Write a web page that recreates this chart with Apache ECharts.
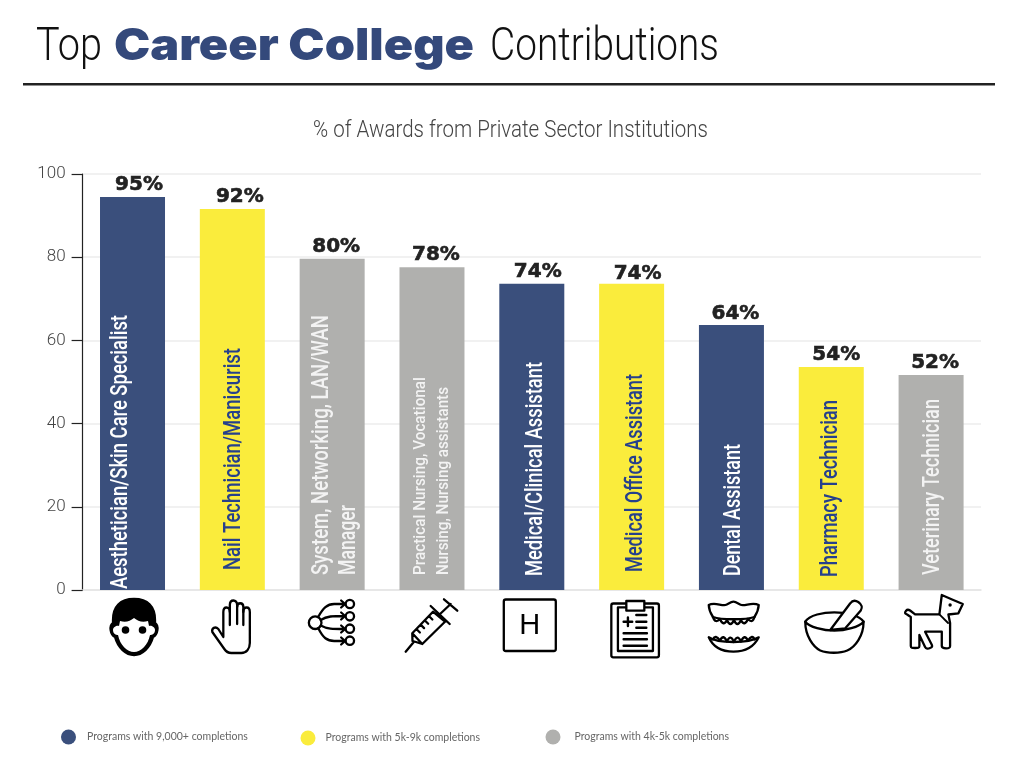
<!DOCTYPE html>
<html><head><meta charset="utf-8">
<style>html,body{margin:0;padding:0;background:#fff}#c{width:1024px;height:762px}</style>
<script src="https://cdn.jsdelivr.net/npm/echarts@6/dist/echarts.min.js"></script>
</head><body><div id="c"></div>
<script>
const categories = ['Aesthetician/Skin Care Specialist','Nail Technician/Manicurist','System, Networking, LAN/WAN\nManager','Practical Nursing, Vocational\nNursing, Nursing assistants','Medical/Clinical Assistant','Medical Office Assistant','Dental Assistant','Pharmacy Technician','Veterinary Technician'];
const values = [94.5,91.6,79.6,77.6,73.6,73.6,63.7,53.6,51.7];
const valueLabels = ['95%','92%','80%','78%','74%','74%','64%','54%','52%'];
const tiers = [2,1,0,0,2,1,2,1,0]; // 2 = 9,000+, 1 = 5k-9k, 0 = 4k-5k
const tierNames = ['Programs with 4k-5k completions','Programs with 5k-9k completions','Programs with 9,000+ completions'];
const yTicks = [0,20,40,60,80,100];

const tierColors = ['#b0b0ae','#faec3c','#3a4f7c'];
const tierTextColors = ['#f3f3f3','#26408c','#ffffff'];
const percentNudge = [[6.5,0],[7.5,0],[4,0],[4,0],[6,0],[6,2],[4,1],[5,0],[4,0]];
const nameDx = [[-11],[1.5],[-9.5,17],[-11.5,12],[4],[5],[3],[0],[2]];
const nameDy = [-1,-20,-15,-15,-14,-18,-14,-13,-15];
const nameLen = [[274],[222],[260,70],[198,188],[214],[198],[132],[177],[176]];
const nameFont = ['500 23px Roboto','500 23px Roboto','500 23px Roboto','500 17px Roboto','500 23px Roboto','500 23px Roboto','500 23px Roboto','500 23px Roboto','500 23px Roboto'];

const circle=(x,y,r)=>`M${x-r},${y}a${r},${r} 0 1,0 ${2*r},0a${r},${r} 0 1,0 ${-2*r},0Z`;
const icons = [
 [{d:'M1.5,9C-12.5,9 -19.5,17 -19.5,30L-19.5,33C-23.5,36 -22.5,44 -17.5,47C-14.5,58 -6.5,65 1.5,65C9.5,65 17.5,58 20.5,47C25.5,44 26.5,36 22.5,33L22.5,30C22.5,17 15.5,9 1.5,9Z',fill:'#000',stroke:'#000'},
  {d:'M-13.5,36L-12.5,31C-6.5,33 -2.5,31 1.5,28C5.5,31 9.5,33 15.5,31L16.5,36C18.5,35 22.5,37 22.5,40C22.5,44 19.5,45 17.5,45C15.5,55 8.5,62 1.5,62C-5.5,62 -12.5,55 -14.5,45C-16.5,45 -19.5,44 -19.5,40C-19.5,37 -15.5,35 -13.5,36Z',fill:'#fff',stroke:'none'},
  {d:circle(-7,40,3.8)+circle(10,40,3.8),fill:'#000',stroke:'none'}],
 [{d:'M-9,47L-9,22C-9,16 -2.5,16 -2.5,22L-2.5,15C-2.5,9 4.8,9 4.8,15L4.8,17C4.8,12 11,12 11,17L11,22C11,16 17.5,16 17.5,22L17.5,53C17.5,59 14,63 9,63L-1,63C-4,63 -6,62 -8,59L-20,42C-21,38 -17,36 -14,39L-9,47Z'},
  {d:'M-2.5,20L-2.5,35M4.8,16L4.8,34M11,20L11,35'}],
 [{d:circle(-17,32.7,6.3)},
  {d:circle(17.7,14,4.2)+circle(17.7,26.3,4.2)+circle(17.7,38.7,4.2)+circle(17.7,50.7,4.2)},
  {d:'M-14,27C-9,18 -5,14 2,14L13,14M9,10.5L13,14L9,17.5M-11.5,30C-5,26 0,26 13,26M9,22.5L13,26L9,29.5M-11.5,35.5C-5,39 0,39 13,39M9,35.5L13,39L9,42.5M-14,38C-9,48 -5,51 2,51L13,51M9,47.5L13,51L9,54.5'}],
 [{d:'M-26.3,61.7L-18,51.7M-19.7,43.3L-9.7,54L13,31.7L1,21.7ZM-19.7,43.3L-19.5,51L-16,52L-9.7,54M-1.3,16L17.7,34M7,25L18.7,14M12,9.3L25.3,20.7M-15.6,39L-12.1,42.5M-11.4,34.6L-7.9,38.1M-7.3,30.3L-3.8,33.8M-3.1,26L.4,29.5'}],
 [{d:'M-26,9.5L22,9.5Q24,9.5 24,11.5L24,59Q24,61 22,61L-26,61Q-28,61 -28,59L-28,11.5Q-28,9.5 -26,9.5Z'},{t:'H',x:-2,y:36}],
 [{d:'M-18.3,13.5L25.3,13.5Q27.3,13.5 27.3,15.5L27.3,65.3Q27.3,67.3 25.3,67.3L-18.3,67.3Q-20.3,67.3 -20.3,65.3L-20.3,15.5Q-20.3,13.5 -18.3,13.5ZM-13.7,17.3L21.3,17.3L21.3,61L-13.7,61Z'},
  {d:'M-5.3,11L12.7,11L12.7,20.7L-5.3,20.7Z',fill:'#fff'},
  {d:'M-8,31.7L.6,31.7M-3.7,27.4L-3.7,36M4.7,25L14.7,25M4.7,31.7L14.7,31.7M4.7,37.7L14.7,37.7M-8,43.3L15.3,43.3M-8,49.3L15.3,49.3M-8,55.7L15.3,55.7',w:2.4}],
 [{d:'M-22.7,15C-17,12 -10,16 -6,15C-3,14 -1,11.7 2,11.7C5,11.7 7,14 10,15C14,16 21,12 27.3,15C27,20 25,24 23,27C14,30 -10,30 -18.5,27C-20.5,24 -22.5,20 -22.7,15Z'},
  {d:'M-18.5,27Q-16,34 -11.5,29Q-8,37 -4.5,30Q-1,38 2.5,30Q6,38 9.5,30Q13,37 16.5,29Q21,34 23,27'},
  {d:'M-22.7,47.3C-18,58 -8,61.7 2,61.7C12,61.7 22,58 27.3,47.3C22,50.5 12,52 2,52C-8,52 -18,50.5 -22.7,47.3Z'},
  {d:'M-18.5,49.5Q-16,44 -11.5,50.5Q-8,43.5 -4.5,51.5Q-1,43.5 2.5,52Q6,43.5 9.5,51.5Q13,43.5 16.5,50.5Q21,44 23,49.5'}],
 [{d:'M-26,31.7C-22,25 -8,22.3 3,22.3C14,22.3 28,25 32.3,31.7',fill:'none'},
  {d:'M-1,40L19,13.3C21,10.5 24,10 27,12C31,15 31.5,17 29.5,20.5L14,38.3Z',fill:'#fff'},
  {d:'M-26,31.7C-26,46 -18,57 -11,60.5C-4,63.5 9,63.5 16,60.5C24,57 32.3,46 32.3,31.7C28,37 14,40.7 3,40.7C-8,40.7 -22,37 -26,31.7Z'}],
 [{d:'M-25,20.7C-26.5,22.5 -26.5,23.5 -24,24.5L-20.3,27L-20.3,56C-20.3,58 -19,58 -16,58C-13,58 -11.7,58 -11.7,56L-11.7,45L-6,57C-5,59 -3,59 -1,58C1,57.5 1.5,56.5 .7,54.7L-6,41.7L10.7,41.7L10.7,56C10.7,58 12,58.3 15,58.3C18,58.3 19,58 19,56L19,33L17.3,24.5L27.3,23.3L31.7,14L21,9.5L10.7,5L8.3,24.3L-16,24.3L-21,20.5C-22.5,19.5 -24,19.5 -25,20.7Z'},
  {d:'M8.3,24.3L17,33',w:1.8},{d:circle(19,15,1.7),fill:'#000',stroke:'none'}]
];

const meas=document.createElement('canvas').getContext('2d');
function fit(text,font,width){meas.font=font;return width/meas.measureText(text).width;}
function fitted(text,x,y,font,width,fill){
  return {type:'text',x:x,y:y,scaleX:fit(text,font,width),style:{text:text,x:0,y:0,font:font,fill:fill,textVerticalAlign:'middle',textAlign:'left'}};
}

const barSeries = tierNames.map((nm,t)=>({
  name:nm,type:'bar',barWidth:65,barGap:'-100%',z:2,
  itemStyle:{color:tierColors[t]},
  data:values.map((v,i)=>tiers[i]===t?v:null)
}));

const legendAt=[[61,729.5],[300.5,730.5],[545.5,729.5]];
const legendPad=[6,5,9];
const legendOrder=[2,1,0];
const option={
  animation:false,backgroundColor:'#fff',
  grid:{left:82.6,right:43,top:174,bottom:172,containLabel:false},
  xAxis:{type:'category',data:categories,axisLabel:{show:false},axisTick:{show:false},axisLine:{lineStyle:{color:'#e4e4e4',width:1.5}}},
  yAxis:{type:'value',min:0,max:100,interval:20,
    axisLine:{show:true,lineStyle:{color:'#222',width:1.2}},
    axisTick:{show:true,length:11,lineStyle:{color:'#222',width:1.2}},
    axisLabel:{margin:17,color:'#444',fontFamily:'Roboto',fontWeight:300,fontSize:17,formatter:v=>yTicks.includes(v)?String(v):''},
    splitLine:{lineStyle:{color:'#ececec',width:1.5}}},
  legend:legendOrder.map((t,k)=>({data:[tierNames[t]],left:legendAt[k][0],top:legendAt[k][1],padding:0,itemWidth:15,itemHeight:15,icon:'circle',selectedMode:false,
    textStyle:{color:'#666',fontFamily:'Lato',fontSize:10.5,padding:[0,0,0,legendPad[k]]}})),
  series:[...barSeries,
   {name:'value labels',type:'bar',barWidth:65,barGap:'-100%',z:3,itemStyle:{color:'transparent'},
    data:values.map((v,i)=>({value:v,label:{show:true,position:'top',distance:2,formatter:valueLabels[i],color:'#222',textBorderColor:'#222',textBorderWidth:0.6,fontFamily:'"DejaVu Sans"',fontWeight:'bold',fontSize:20,offset:percentNudge[i]}}))},
   {name:'bar names',type:'custom',coordinateSystem:'cartesian2d',clip:false,silent:true,z:5,
    data:categories.map((c,i)=>[i,0]),
    renderItem:(p,api)=>{
      const i=p.dataIndex,o=api.coord([api.value(0),0]);
      return {type:'group',children:categories[i].split('\n').map((line,k)=>({
        type:'text',x:o[0]+nameDx[i][k],y:o[1]+nameDy[i],rotation:Math.PI/2,scaleX:fit(line,nameFont[i],nameLen[i][k]),
        style:{text:line,x:0,y:0,font:nameFont[i],fill:tierTextColors[tiers[i]],textAlign:'left',textVerticalAlign:'middle'}}))};
    }},
   {name:'icons',type:'custom',coordinateSystem:'cartesian2d',clip:false,silent:true,z:4,
    data:categories.map((c,i)=>[i,0]),
    renderItem:(p,api)=>{
      const o=api.coord([api.value(0),0]);
      return {type:'group',x:o[0],y:o[1],children:icons[p.dataIndex].map(s=>s.t?
        {type:'text',x:s.x,y:s.y,style:{text:s.t,font:'29px "Liberation Sans"',fill:'#000',textAlign:'center',textVerticalAlign:'middle'}}:
        {type:'path',shape:{pathData:s.d},style:{fill:s.fill||'none',stroke:s.stroke||'#000',lineWidth:s.w||2.3,lineJoin:'round',lineCap:'round'}})};
    }}
  ],
  graphic:[
    fitted('Top',36,48,'300 46px Roboto',66,'#111'),
    fitted('Career College',114,47,'900 44px Inter',360,'#34497b'),
    fitted('Contributions',490,48,'300 46px Roboto',229,'#111'),
    {type:'rect',shape:{x:23,y:83,width:972,height:2.4},style:{fill:'#222'}},
    fitted('% of Awards from Private Sector Institutions',313,131,'300 23px Roboto',395,'#444')
  ]
};
echarts.init(document.getElementById('c')).setOption(option);
</script></body></html>
